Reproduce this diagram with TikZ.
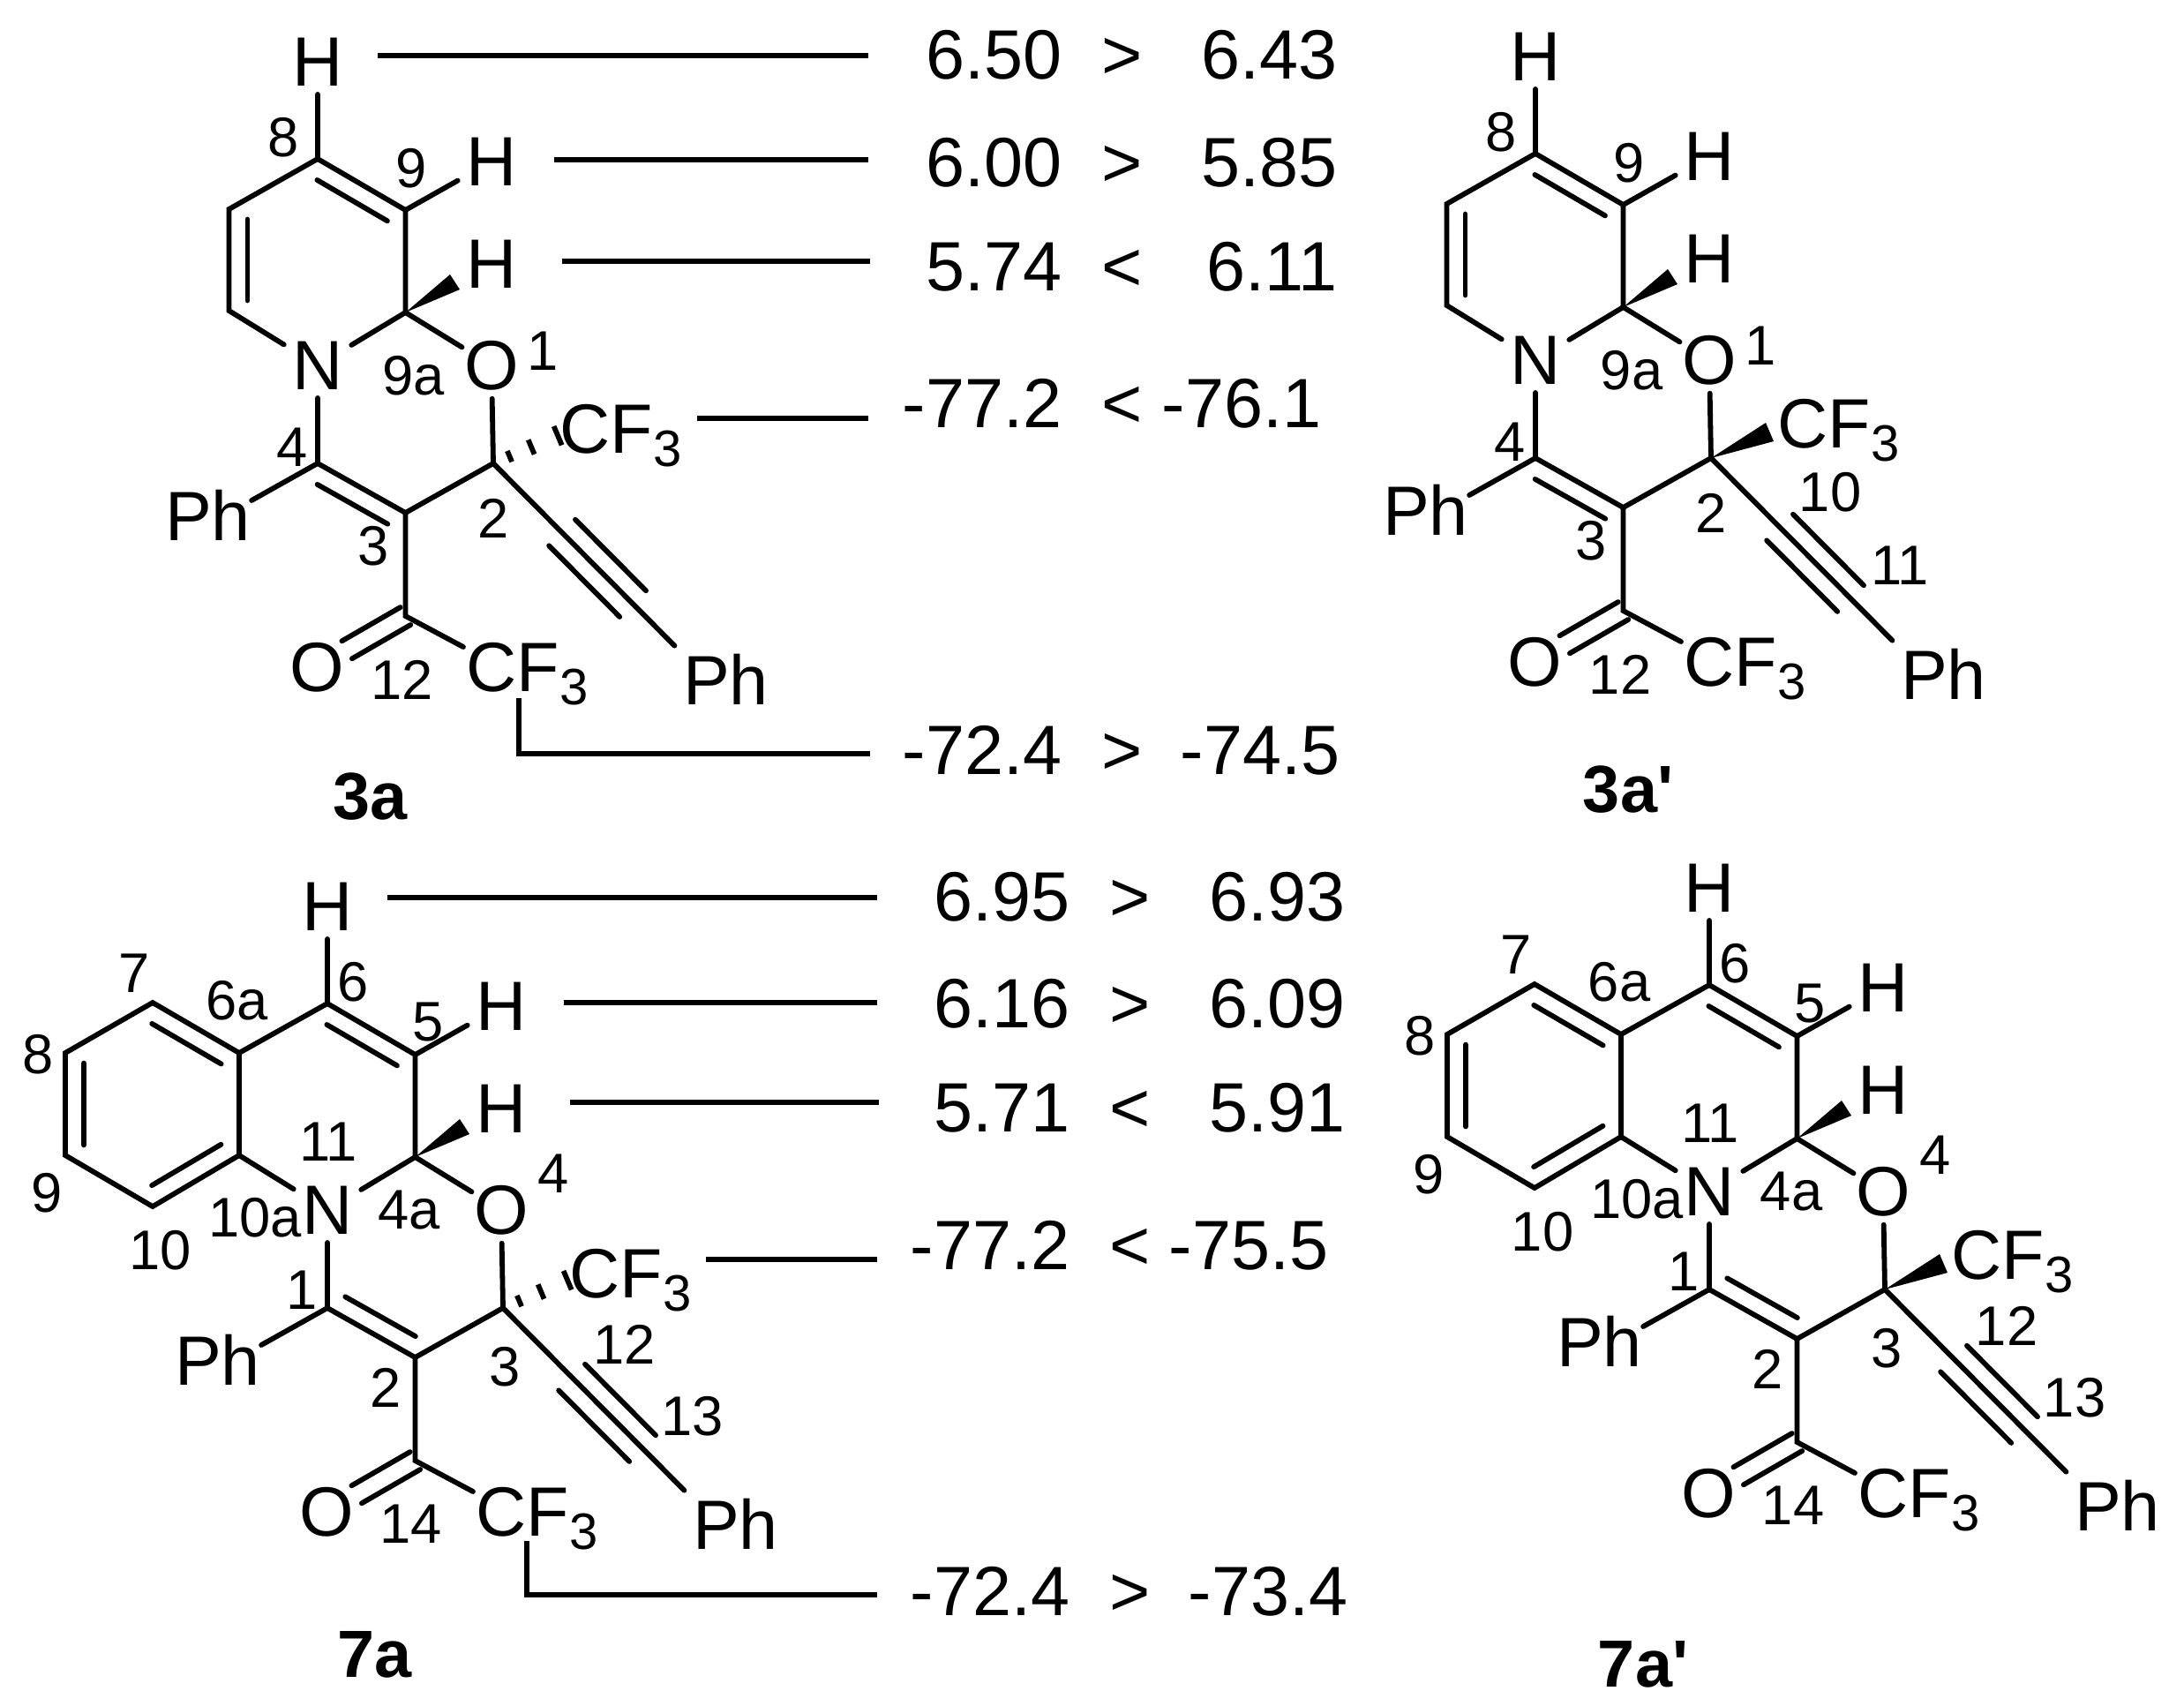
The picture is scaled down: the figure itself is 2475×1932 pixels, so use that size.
\documentclass[tikz,border=0pt]{standalone}
\usepackage{fontspec}
\setmainfont{Liberation Sans}
\usetikzlibrary{calc}
\def\cfthree{CF\raisebox{-.15cm}{\fontsize{16.5}{18}\selectfont 3}}
\def\dblin#1#2#3{\draw[bond] ($(#1)!.1!(#2)!.21cm!#3:(#2)$) -- ($(#1)!.9!(#2)!.21cm!#3:(#2)$);}
\tikzset{
	bond/.style={line width=.058cm, line cap=round},
	lead/.style={line width=.058cm},
	atom/.style={inner sep=.09cm, font=\fontsize{22.5}{24}\selectfont},
	group/.style={inner sep=0pt, anchor=base west, font=\fontsize{22.5}{24}\selectfont},
	num/.style={inner sep=0pt, font=\fontsize{18}{20}\selectfont},
	tag/.style={inner sep=0pt, font=\fontsize{21.5}{24}\selectfont\bfseries},
	val/.style={inner sep=0pt, font=\fontsize{22.5}{24}\selectfont},
}
% parts shared by all four molecules, origin at the ring nitrogen
\def\skeleton{
	\node[atom] (n) at (0,0) {N};
	\node[atom, inner xsep=.02cm] (oo) at (197,0) {O};
	\node[atom] (htop) at (0,-344) {H};
	\node[atom] (hr) at (197,-231) {H};
	\node[atom] (hj) at (197,-115) {H};
	\node[atom] (ph) at (-124.5,170) {Ph};
	\node[atom] (phb) at (462.5,356) {Ph};
	\node[atom] (oco) at (-1,342) {O};
	\node[group] (cfa) at (274,99) {\cfthree};
	\node[group] (cfb) at (168,369) {\cfthree};
	\coordinate (ctop) at (0,-234);
	\coordinate (cr) at (99.5,-176);
	\coordinate (cj) at (99.5,-60);
	\coordinate (cq) at (199,111);
	\coordinate (cn) at (0,111);
	\coordinate (cm) at (99.5,167);
	\coordinate (cco) at (99.5,284);
	\draw[bond] (htop) -- (ctop) -- (cr) -- (cj) -- (n);
	\draw[bond] (cr) -- (hr);
	\draw[bond] (cj) -- (oo);
	\draw[bond] (oo) -- (cq) -- (cm) -- (cn) -- (n);
	\draw[bond] (cn) -- ([shift={(-8.5,-17)}]ph.east);
	\draw[bond] (cm) -- (cco) -- ([shift={(-3,-50)}]cfb.base west);
	\dblin{ctop}{cr}{-90}
	% carbonyl
	\draw[bond] ($(cco)!.115cm!90:(oco)$) -- ($(cco)!.66!(oco)!.115cm!90:(oco)$);
	\draw[bond] ($(cco)!.115cm!-90:(oco)$) -- ($(cco)!.66!(oco)!.115cm!-90:(oco)$);
	% alkyne
	\draw[bond] (cq) -- (phb.north west);
	\draw[bond] ($(cq)!.38!(phb.north west)!.21cm!90:(phb.north west)$) -- ($(cq)!.77!(phb.north west)!.21cm!90:(phb.north west)$);
	\draw[bond] ($(cq)!.38!(phb.north west)!.21cm!-90:(phb.north west)$) -- ($(cq)!.77!(phb.north west)!.21cm!-90:(phb.north west)$);
	\fill (cj) -- (150,-103) -- (161,-86) -- cycle;
}
\def\hashed{
	\foreach \t in {.24,.56,.95}
		\draw[bond, line cap=butt] ({199+77*\t-.39*(5+7*\t)},{111-33*\t-.92*(5+7*\t)}) -- ({199+77*\t+.39*(5+7*\t)},{111-33*\t+.92*(5+7*\t)});
}
\def\solid{
	\fill (cq) -- (261,71) -- (270,92) -- cycle;
}
\def\pyridine{
	\coordinate (cla) at (-100.5,-177);
	\coordinate (clb) at (-100.5,-62);
	\draw[bond] (ctop) -- (cla) -- (clb) -- (n);
	\dblin{cla}{clb}{90}
	\dblin{cn}{cm}{-90}
	\node[num] (l8) at (-39,-258) {8};
	\node[num] (l9) at (106,-223) {9};
	\node[num] (l9a) at (109,12) {9a};
	\node[num] (l1) at (255,-16) {1};
	\node[num] (l4) at (-29,93) {4};
	\node[num] (l3) at (63,205) {3};
	\node[num] (l2) at (199,173) {2};
	\node[num] (l12) at (96,356) {12};
}
\def\quinoline{
	\coordinate (csa) at (-100,-178);
	\coordinate (csb) at (-100,-62);
	\coordinate (ca) at (-198,-235);
	\coordinate (cb) at (-297,-178);
	\coordinate (cc) at (-297,-62);
	\coordinate (cd) at (-198,-4);
	\draw[bond] (ctop) -- (csa) -- (csb) -- (n);
	\draw[bond] (csa) -- (ca) -- (cb) -- (cc) -- (cd) -- (csb);
	\dblin{ca}{csa}{-90}
	\dblin{cb}{cc}{90}
	\dblin{csb}{cd}{-90}
	\dblin{cn}{cm}{90}
	\node[num] (l7) at (-219,-268) {7};
	\node[num] (l6a) at (-102,-237) {6a};
	\node[num] (l6) at (29,-258) {6};
	\node[num] (l5) at (114,-213) {5};
	\node[num] (l11) at (1,-77) {11};
	\node[num] (l10a) at (-82,9) {10a};
	\node[num] (l4a) at (93,0) {4a};
	\node[num] (l4) at (256,-41) {4};
	\node[num] (l8) at (-328,-176) {8};
	\node[num] (l9) at (-318,-19) {9};
	\node[num] (l10) at (-189,46) {10};
	\node[num] (l1) at (-29,91) {1};
	\node[num] (l2) at (66,201) {2};
	\node[num] (l3) at (201,178) {3};
	\node[num] (l12) at (337,152) {12};
	\node[num] (l13) at (414,234) {13};
	\node[num] (l14) at (95,356) {14};
}

\begin{document}
\begin{tikzpicture}[x=.01cm, y=-.01cm]
	\useasboundingbox (0,0) rectangle (2475,1932);

	%%%%% molecules %%%%%
	\begin{scope}[shift={(360,414)}, name prefix=A-]
		\skeleton \pyridine \hashed
	\end{scope}
	\begin{scope}[shift={(1740,408)}, name prefix=B-]
		\skeleton \pyridine \solid
		\node[num] (l10) at (334,150) {10};
		\node[num] (l11) at (413,233) {11};
	\end{scope}
	\begin{scope}[shift={(371,1371)}, name prefix=C-]
		\skeleton \quinoline \hashed
	\end{scope}
	\begin{scope}[shift={(1937,1350)}, name prefix=D-]
		\skeleton \quinoline \solid
	\end{scope}

	\node[tag] (nameA) at (420,903) {3a};
	\node[tag] (nameB) at (1845,895) {3a\textquotesingle};
	\node[tag] (nameC) at (425,1875) {7a};
	\node[tag] (nameD) at (1862,1886) {7a\textquotesingle};

	%%%%% shift values %%%%%
	\foreach \nm/\y/\a/\xa/\s/\xs/\b/\xb in {
		ra/89/6.50/1204/>/1272/6.43/1516,
		rb/211/6.00/1204/>/1272/5.85/1516,
		rc/329/5.74/1204/</1272/6.11/1516,
		rd/484/-77.2/1204/</1272/-76.1/1498,
		re/877/-72.4/1204/>/1272/-74.5/1519,
		rf/1043/6.95/1213/>/1281/6.93/1525,
		rg/1164/6.16/1213/>/1281/6.09/1525,
		rh/1282/5.71/1213/</1281/5.91/1525,
		ri/1438/-77.2/1213/</1281/-75.5/1506,
		rj/1830/-72.4/1213/>/1281/-73.4/1528}
	{
		\node[val, anchor=base east] (\nm a) at (\xa,\y) {\a};
		\node[val, anchor=base] (\nm s) at (\xs,\y) {\s};
		\node[val, anchor=base east] (\nm b) at (\xb,\y) {\b};
	}

	%%%%% leaders %%%%%
	\foreach \nm/\xa/\xb/\y in {
		la/428/984/63, lb/628/984/181, lc/637/986/296, ld/790/984/474,
		lf/439/994/1017, lg/639/994/1136, lh/646/996/1249, li/800/994/1427}
	{
		\coordinate (\nm p) at (\xa,\y);
		\coordinate (\nm q) at (\xb,\y);
		\draw[lead] (\nm p) -- (\nm q);
	}
	\coordinate (lep) at (588,791);
	\coordinate (leq) at (986,854);
	\draw[lead] (lep) |- (leq);
	\coordinate (ljp) at (597,1746);
	\coordinate (ljq) at (994,1807);
	\draw[lead] (ljp) |- (ljq);
\end{tikzpicture}
\end{document}
